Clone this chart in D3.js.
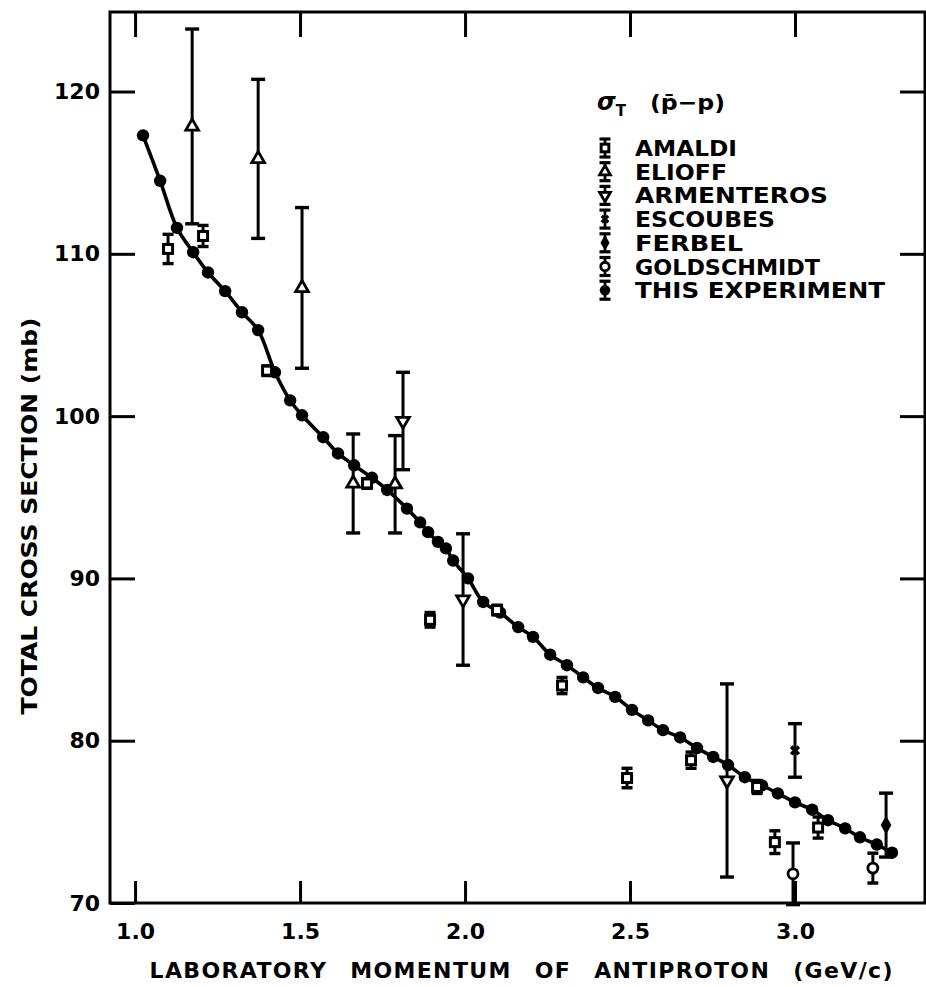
<!DOCTYPE html>
<html><head><meta charset="utf-8">
<script src="https://cdn.jsdelivr.net/npm/d3@7"></script>
<style>
body{margin:0;background:#fff}
svg{display:block}
text{font-family:"DejaVu Sans",sans-serif;font-weight:bold;fill:#000}
</style>
</head><body>
<svg id="c" width="926" height="987"></svg>
<script>
// ---------- data ----------
const xTicks = [1.0, 1.5, 2.0, 2.5, 3.0];
const yTicks = [70, 80, 90, 100, 110, 120];

// This experiment (filled circles + smooth curve)
const thisP = [1.024,1.076,1.127,1.176,1.221,1.273,1.324,1.373,1.424,1.470,1.506,1.570,1.615,1.664,1.718,1.764,1.824,1.864,1.888,1.918,1.942,1.964,2.009,2.055,2.106,2.161,2.206,2.258,2.309,2.358,2.403,2.455,2.506,2.555,2.600,2.652,2.703,2.752,2.797,2.848,2.900,2.948,3.000,3.052,3.100,3.152,3.197,3.248,3.294];
const thisSigma = [117.3,114.5,111.6,110.1,108.85,107.7,106.4,105.3,102.7,100.97,100.05,98.7,97.7,96.97,96.2,95.45,94.3,93.45,92.85,92.25,91.85,91.1,90.0,88.55,87.9,87.0,86.4,85.3,84.65,83.9,83.25,82.7,81.9,81.25,80.65,80.2,79.55,79.0,78.5,77.75,77.25,76.75,76.2,75.75,75.1,74.6,74.05,73.6,73.1];

// Amaldi (open squares)
const amaldiP = [1.100,1.206,1.400,1.703,1.894,2.097,2.294,2.491,2.685,2.885,2.939,3.070];
const amaldiSigma = [110.3,111.1,102.8,95.85,87.45,88.05,83.4,77.7,78.8,77.15,73.75,74.65];
const amaldiErr = [0.9,0.65,0.3,0.3,0.45,0.3,0.5,0.6,0.5,0.4,0.7,0.65];

// Elioff (open triangles up)
const elioffP = [1.173,1.373,1.506,1.661,1.788];
const elioffSigma = [117.85,115.85,107.9,95.85,95.8];
const elioffErr = [6.0,4.9,4.95,3.05,3.0];

// Armenteros (open triangles down)
const armenterosP = [1.812,1.994,2.794];
const armenterosSigma = [99.7,88.7,77.55];
const armenterosErr = [3.0,4.05,5.95];

// Escoubes
const escoubesP = [3.000];
const escoubesSigma = [79.4];
const escoubesErr = [1.65];

// Ferbel (filled diamond)
const ferbelP = [3.276];
const ferbelSigma = [74.8];
const ferbelErr = [1.97];

// Goldschmidt (open circles)
const goldP = [2.994,3.236];
const goldSigma = [71.8,72.15];
const goldErr = [1.9,0.92];

const legendNames = ["AMALDI","ELIOFF","ARMENTEROS","ESCOUBES","FERBEL","GOLDSCHMIDT","THIS EXPERIMENT"];
const legendKinds = ["square","triUp","triDown","x","diamond","circle","dot"];
const legendWidths = [102,92,193,140,108,185,250];

// ---------- scales ----------
const svg = d3.select("#c");
const x = d3.scaleLinear().domain([0.924, 3.394]).range([110, 925]);
const y = d3.scaleLinear().domain([70, 124.9]).range([903, 12]);
const L = 110, R = 925, T = 12, B = 903;

// ---------- axes ----------
function styleAxis(g){
  g.select(".domain").remove();
  g.selectAll(".tick line").attr("stroke","#000").attr("stroke-width",3);
  g.selectAll(".tick text").attr("font-size",22).attr("font-family","DejaVu Sans").attr("font-weight","bold").attr("fill","#000");
}
svg.append("g").attr("transform",`translate(0,${B})`)
  .call(d3.axisBottom(x).tickValues(xTicks).tickSize(-22).tickPadding(20).tickFormat(d3.format(".1f")))
  .call(styleAxis);
svg.append("g").attr("transform",`translate(0,${T})`)
  .call(d3.axisTop(x).tickValues(xTicks).tickSize(-25).tickFormat(""))
  .call(styleAxis);
svg.append("g").attr("transform",`translate(${L},0)`)
  .call(d3.axisLeft(y).tickValues(yTicks).tickSize(-25).tickPadding(10).tickFormat(d3.format("d")))
  .call(styleAxis);
svg.append("g").attr("transform",`translate(${R},0)`)
  .call(d3.axisRight(y).tickValues(yTicks.filter(v=>v>70)).tickSize(-25).tickFormat(""))
  .call(styleAxis);

// frame
svg.append("path").attr("d",`M${L},${T}H${R}V${B}H${L}Z`)
  .attr("fill","none").attr("stroke","#000").attr("stroke-width",3);

// axis titles
svg.append("text").attr("transform","translate(37,516) rotate(-90)")
  .attr("text-anchor","middle").attr("font-size",22)
  .attr("textLength",397).attr("lengthAdjust","spacingAndGlyphs")
  .text("TOTAL CROSS SECTION (mb)");
svg.append("text").attr("x",521).attr("y",978)
  .attr("text-anchor","middle").attr("font-size",22)
  .attr("textLength",743).attr("lengthAdjust","spacing")
  .attr("word-spacing",14)
  .text("LABORATORY MOMENTUM OF ANTIPROTON (GeV/c)");

// ---------- marks ----------
const plot = svg.append("g");

function marker(g, kind, cx, cy, s){
  s = s || 1;
  if(kind==="square"){
    g.append("rect").attr("x",cx-4.5*s).attr("y",cy-4.5*s).attr("width",9*s).attr("height",9*s)
      .attr("fill","#fff").attr("stroke","#000").attr("stroke-width",3);
  } else if(kind==="triUp" || kind==="triDown"){
    g.append("path").attr("d",d3.symbol(d3.symbolTriangle,70*s*s)())
      .attr("transform",`translate(${cx},${cy})${kind==="triDown"?" rotate(180)":""}`)
      .attr("fill","#fff").attr("stroke","#000").attr("stroke-width",2.8);
  } else if(kind==="circle"){
    g.append("circle").attr("cx",cx).attr("cy",cy).attr("r",5*s)
      .attr("fill","#fff").attr("stroke","#000").attr("stroke-width",2.8);
  } else if(kind==="diamond"){
    g.append("path").attr("d",d3.symbol(d3.symbolDiamond,100*s*s)())
      .attr("transform",`translate(${cx},${cy})`).attr("fill","#000");
  } else if(kind==="x"){
    g.append("path").attr("d",d3.symbol(d3.symbolCross,65*s*s)())
      .attr("transform",`translate(${cx},${cy}) rotate(45)`).attr("fill","#000");
  } else if(kind==="dot"){
    g.append("circle").attr("cx",cx).attr("cy",cy).attr("r",6.2*s).attr("fill","#000");
  }
}

function errSeries(P, S, E, kind, cap){
  P.forEach((p,i)=>{
    const g = plot.append("g");
    const cx = x(p), y1 = y(S[i]+E[i]), y2 = y(S[i]-E[i]);
    const c = cap || (E[i] > 1.5 ? 7 : 5.5);
    g.append("line").attr("x1",cx).attr("x2",cx).attr("y1",y1).attr("y2",y2)
      .attr("stroke","#000").attr("stroke-width",3);
    [y1,y2].forEach(yy=>g.append("line").attr("x1",cx-c).attr("x2",cx+c).attr("y1",yy).attr("y2",yy)
      .attr("stroke","#000").attr("stroke-width",3.4));
    marker(g, kind, cx, y(S[i]));
  });
}

// curve + dots of this experiment
const pts = thisP.map((p,i)=>[x(p), y(thisSigma[i])]);
plot.append("path").attr("d", d3.line().curve(d3.curveCatmullRom)(pts))
  .attr("fill","none").attr("stroke","#000").attr("stroke-width",3.6);
pts.forEach(([cx,cy])=>marker(plot,"dot",cx,cy));

errSeries(amaldiP, amaldiSigma, amaldiErr, "square");
errSeries(elioffP, elioffSigma, elioffErr, "triUp");
errSeries(armenterosP, armenterosSigma, armenterosErr, "triDown");
errSeries(escoubesP, escoubesSigma, escoubesErr, "x");
errSeries(ferbelP, ferbelSigma, ferbelErr, "diamond");
errSeries(goldP, goldSigma, goldErr, "circle");

// ---------- legend ----------
const lg = svg.append("g");
const t = lg.append("text").attr("x",597).attr("y",110).attr("font-size",24);
t.append("tspan").attr("font-style","italic").text("σ");
t.append("tspan").attr("font-size",15).attr("dy",6).text("T");
lg.append("text").attr("x",650).attr("y",110).attr("font-size",21)
  .attr("textLength",75).attr("lengthAdjust","spacingAndGlyphs").text("(p\u0304\u2212p)");

legendNames.forEach((name,i)=>{
  const base = 156 + i*23.7;
  const cy = base - 8;
  const g = lg.append("g");
  g.append("line").attr("x1",605).attr("x2",605).attr("y1",cy-9).attr("y2",cy+9)
    .attr("stroke","#000").attr("stroke-width",2.8);
  [cy-9,cy+9].forEach(yy=>g.append("line").attr("x1",599.5).attr("x2",610.5).attr("y1",yy).attr("y2",yy)
    .attr("stroke","#000").attr("stroke-width",3.2));
  marker(g, legendKinds[i], 605, cy, 0.85);
  g.append("text").attr("x",635).attr("y",base).attr("font-size",22)
    .attr("textLength",legendWidths[i]).attr("lengthAdjust","spacingAndGlyphs").text(name);
});
</script>
</body></html>
